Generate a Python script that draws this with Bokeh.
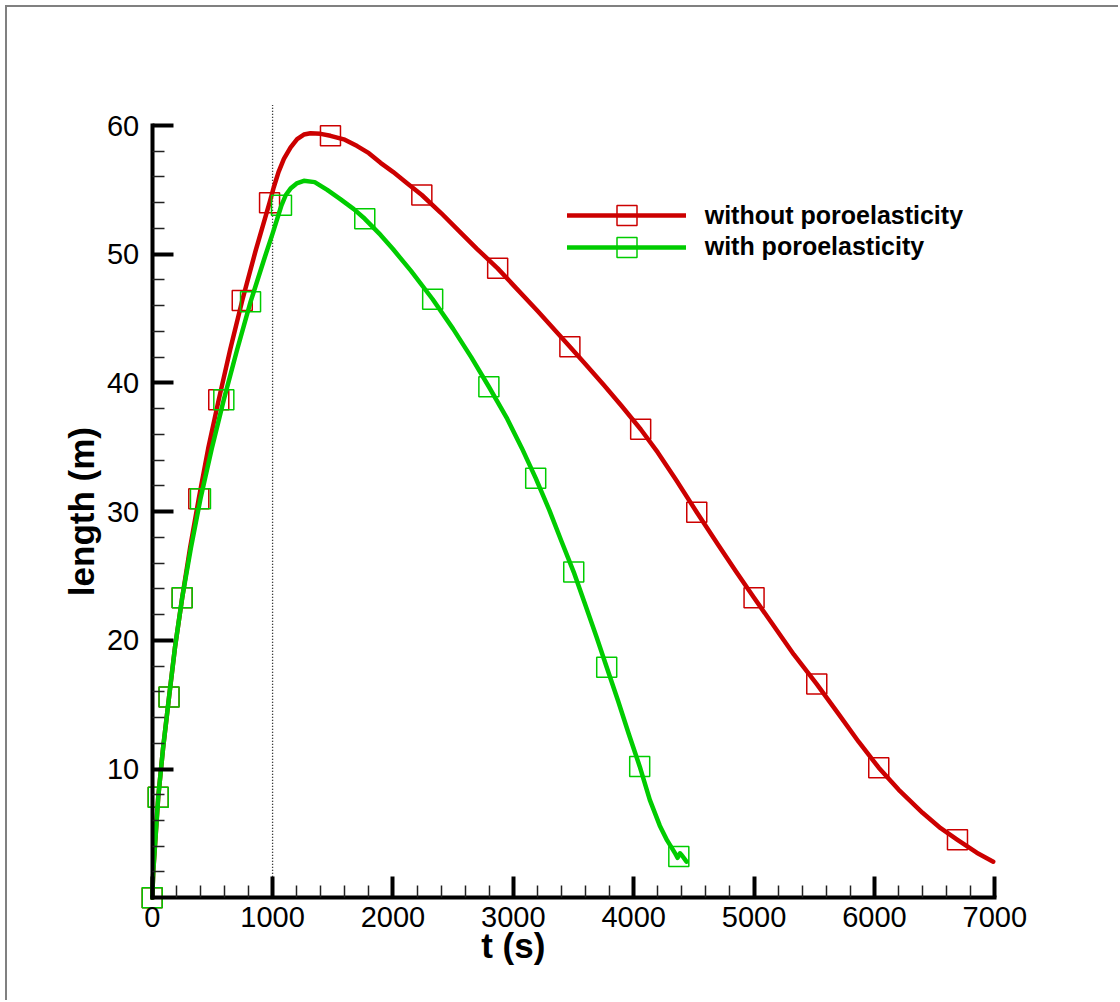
import math
from bokeh.plotting import figure
from bokeh.models import LinearAxis, FixedTicker, Range1d, Legend, LegendItem, Label
from bokeh.embed import file_html
from bokeh.resources import INLINE

# ---------------- data ----------------
t_without = [0, 10, 27, 50, 90, 140, 190, 249, 315, 387, 465, 553, 648, 748, 860, 975, 1010, 1050, 1094, 1150,
             1204, 1260, 1315, 1400, 1481, 1600, 1703, 1800, 1897, 2000, 2120, 2240, 2400, 2550, 2700, 2870, 3000,
             3200, 3470, 3600, 3750, 3900, 4058, 4200, 4350, 4524, 4700, 4850, 5000, 5150, 5330, 5521, 5700, 5870,
             6036, 6200, 6400, 6550, 6690, 6850, 6987]
len_without = [0, 2.2, 4.6, 7.8, 11.6, 15.6, 19.5, 23.3, 27.2, 31.0, 34.9, 38.7, 42.6, 46.4, 50.3, 54.0, 55.2, 56.4,
               57.4, 58.3, 58.95, 59.3, 59.4, 59.35, 59.2, 58.9, 58.4, 57.85, 57.1, 56.4, 55.5, 54.6, 53.2, 51.8,
               50.4, 48.9, 47.6, 45.6, 42.8, 41.45, 39.85, 38.2, 36.4, 34.6, 32.5, 29.95, 27.45, 25.35, 23.3, 21.3,
               18.9, 16.6, 14.3, 12.1, 10.1, 8.4, 6.6, 5.4, 4.5, 3.5, 2.8]
t_without_marks = [0, 50, 140, 249, 387, 553, 748, 975, 1481, 2240, 2870, 3470, 4058, 4524, 5000, 5521, 6036, 6690]
len_without_marks = [0, 7.8, 15.6, 23.3, 31.0, 38.7, 46.4, 54.0, 59.2, 54.6, 48.9, 42.8, 36.4, 29.95, 23.3, 16.6,
                     10.1, 4.5]

t_with = [0, 10, 27, 50, 90, 140, 190, 249, 322, 401, 495, 595, 703, 817, 940, 1000, 1074, 1110, 1149, 1200,
          1260, 1350, 1454, 1560, 1675, 1766, 1897, 2000, 2150, 2330, 2500, 2650, 2797, 2950, 3070, 3186, 3300,
          3400, 3502, 3600, 3690, 3776, 3870, 3960, 4050, 4134, 4217, 4278, 4347, 4365, 4385, 4400, 4439]
len_with = [0, 2.2, 4.6, 7.8, 11.6, 15.6, 19.5, 23.3, 27.2, 31.0, 34.9, 38.7, 42.5, 46.3, 49.9, 51.6, 53.8, 54.6,
            55.1, 55.5, 55.7, 55.6, 55.0, 54.3, 53.5, 52.75, 51.5, 50.4, 48.7, 46.5, 44.2, 42.0, 39.7, 37.2, 34.95,
            32.6, 30.1, 27.7, 25.3, 22.7, 20.3, 17.9, 15.3, 12.7, 10.2, 7.6, 5.6, 4.45, 3.4, 3.1, 3.45, 3.3, 2.8]
t_with_marks = [0, 50, 140, 249, 401, 595, 817, 1074, 1766, 2330, 2797, 3186, 3502, 3776, 4050, 4375]
len_with_marks = [0, 7.8, 15.6, 23.3, 31.0, 38.7, 46.3, 53.8, 52.75, 46.5, 39.7, 32.6, 25.3, 17.9, 10.2, 3.2]

ref_t = [1000, 1000]          # dotted reference line at t = 1000 s
ref_len = [0, 61.6]

x_ticks = [0, 1000, 2000, 3000, 4000, 5000, 6000, 7000]
x_minor = [v for v in range(200, 7000, 200) if v % 1000 != 0]
y_ticks = [10, 20, 30, 40, 50, 60]
y_minor = [v for v in range(2, 60, 2) if v % 10 != 0]

series_labels = ["without poroelasticity", "with poroelasticity"]
x_title = "t (s)"
y_title = "length (m)"

# ---------------- styling ----------------
FONT = "Liberation Sans"
RED = "#cc0000"
GREEN = "#00cc00"

p = figure(width=1113, height=995, output_backend="svg", toolbar_location=None,
           x_range=Range1d(-952.9, 8044.3), y_range=Range1d(-6.589, 69.169),
           x_axis_location=None, y_axis_location=None,
           min_border_left=30, min_border_right=0, min_border_top=0, min_border_bottom=20)
p.xgrid.grid_line_color = None
p.ygrid.grid_line_color = None
p.outline_line_color = None
p.background_fill_color = "white"
p.border_fill_color = "white"
p.styles = {"margin-left": "7px", "margin-top": "7px", "box-shadow": "-2px -2px 0px 0px #808080"}


def style_axis(ax):
    ax.axis_line_width = 4
    ax.axis_line_color = "black"
    ax.axis_line_cap = "square"
    ax.major_tick_in = 21
    ax.major_tick_out = 0
    ax.major_tick_line_width = 4
    ax.major_tick_line_color = "black"
    ax.minor_tick_in = 12
    ax.minor_tick_out = 0
    ax.minor_tick_line_width = 1.5
    ax.minor_tick_line_color = "#222222"
    ax.major_label_text_font = FONT
    ax.major_label_text_font_size = "29px"
    ax.major_label_text_color = "black"


xaxis = LinearAxis(fixed_location=0, bounds=(0, 7000),
                   ticker=FixedTicker(ticks=x_ticks, minor_ticks=x_minor))
style_axis(xaxis)
xaxis.major_label_standoff = 9
p.add_layout(xaxis, "below")

yaxis = LinearAxis(fixed_location=0, bounds=(0, 60),
                   ticker=FixedTicker(ticks=y_ticks, minor_ticks=y_minor))
style_axis(yaxis)
yaxis.major_label_standoff = 13
p.add_layout(yaxis, "left")

p.add_layout(Label(x=3000, y=-3.714, text=x_title, text_align="center", text_baseline="middle",
                   text_font=FONT, text_font_style="bold", text_font_size="35px", text_color="black"))
p.add_layout(Label(x=-590, y=30, text=y_title, angle=math.pi / 2, text_align="center",
                   text_baseline="middle", text_font=FONT, text_font_style="bold", text_font_size="35px",
                   text_color="black"))

# reference dotted line
p.line(ref_t, ref_len, line_color="black", line_width=1.3, line_dash="1 2")

r_red = p.line(t_without, len_without, line_color=RED, line_width=4.5, line_join="round", line_cap="round")
r_red_m = p.scatter(t_without_marks, len_without_marks, marker="square", size=20, fill_color=None,
                    line_color=RED, line_width=1.5)
r_green = p.line(t_with, len_with, line_color=GREEN, line_width=4.5, line_join="round", line_cap="round")
r_green_m = p.scatter(t_with_marks, len_with_marks, marker="square", size=20, fill_color=None,
                      line_color=GREEN, line_width=1.5)

common = dict(glyph_width=119, glyph_height=50, label_height=50, spacing=0, padding=0, margin=0,
              label_standoff=19, border_line_color=None, background_fill_alpha=0,
              label_text_font=FONT, label_text_font_style="bold", label_text_font_size="25px",
              label_text_color="black")
legend1 = Legend(items=[LegendItem(label=series_labels[0], renderers=[r_red, r_red_m])],
                 location=(529.7, 742), **common)
legend2 = Legend(items=[LegendItem(label=series_labels[1], renderers=[r_green, r_green_m])],
                 location=(529.7, 710.3), **common)
p.add_layout(legend1)
p.add_layout(legend2)

open("out.html", "w").write(file_html(p, INLINE))
